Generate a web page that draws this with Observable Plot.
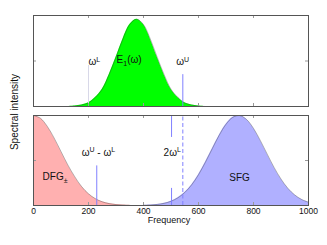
<!DOCTYPE html>
<html><head><meta charset="utf-8">
<script src="https://cdn.jsdelivr.net/npm/d3@7"></script>
<script src="https://cdn.jsdelivr.net/npm/@observablehq/plot@0.6"></script>
<style>
body{margin:0;background:#fff;font-family:"Liberation Sans",Arial,sans-serif;}
#c{position:relative;width:327px;height:245px;overflow:hidden;background:#fff}
#top{position:absolute;left:0;top:0}
#bot{position:absolute;left:0;top:107px}
#ylab{position:absolute;left:14px;top:112px;transform:translate(-50%,-50%) rotate(-90deg);font-size:10px;white-space:nowrap;color:#111}
</style></head><body>
<div id="c"><div id="top"></div><div id="bot"></div><div id="ylab">Spectral intensity</div></div>
<script>
// ---- data ----
const xTicks = [200, 400, 600, 800];
const xTickLabels = [0, 200, 400, 600, 800, 1000];
const yTicks = [0.5];

const e1Freq = [125,150,175,200,225,250,275,300,325,350,375,400,425,450,475,500,525,550,575,600,625];
const e1Int  = [0,0.005,0.016,0.04,0.10,0.19,0.35,0.54,0.74,0.90,0.96,0.90,0.74,0.54,0.35,0.19,0.10,0.04,0.016,0.005,0];

const dfgFreq = [0,25,50,75,100,125,150,175,200,225,250,275,300,325,350];
const dfgInt  = [1.0,0.97,0.88,0.75,0.60,0.45,0.32,0.21,0.13,0.076,0.041,0.021,0.010,0.005,0.002];

const sfgFreq = [400,425,450,475,500,525,550,575,600,625,650,675,700,725,750,775,800,825,850,875,900,925,950,975,1000];
const sfgInt  = [0.002,0.005,0.012,0.024,0.047,0.085,0.144,0.229,0.342,0.480,0.631,0.779,0.902,0.980,0.999,0.955,0.857,0.721,0.570,0.422,0.294,0.191,0.117,0.067,0.036];

// vertical marker lines: frequency, bottom, top
const omegaLFreq = 200, omegaLTop = 0.45;
const omegaUFreq = 543, omegaUTop = 0.35;
const diffFreq = 230, diffTop = 0.44;
const twoLFreq = 502;
const twoLSegBottom = [0, 0.19];
const twoLSegTop = [0.756, 1];

// annotation labels
const topLabelText = ["ω^L", "E_1(ω)", "ω^U"];
const topLabelFreq = [200, 302, 519];
const topLabelY = [0.49, 0.51, 0.49];
const botLabelText = ["ω^U - ω^L", "2ω^L", "DFG_±", "SFG"];
const botLabelFreq = [175, 473, 33, 712];
const botLabelY = [0.59, 0.59, 0.32, 0.31];

// ---- helpers ----
const zip = (xs, ys) => xs.map((x, i) => ({f: x, v: ys[i]}));
const e1 = zip(e1Freq, e1Int), dfg = zip(dfgFreq, dfgInt), sfg = zip(sfgFreq, sfgInt);
const topLabels = topLabelText.map((t, i) => ({t, f: topLabelFreq[i], y: topLabelY[i]}));
const botLabels = botLabelText.map((t, i) => ({t, f: botLabelFreq[i], y: botLabelY[i]}));

const FONT = '"Liberation Sans", Arial, sans-serif';
const LINE = "#8080ff";
const W = 327, ML = 33, MR = 19;
const frameW = W - ML - MR;

function richText(data, opts) {
  return Plot.text(data, {...opts, render(index, scales, values, dims, ctx, next) {
    const g = next(index, scales, values, dims, ctx);
    d3.select(g).selectAll("text").each(function() {
      const s = this.textContent;
      const parts = s.split(/(\^.|_.)/).filter(p => p);
      this.textContent = "";
      let shift = 0;
      for (const p of parts) {
        const t = d3.select(this).append("tspan");
        let target = 0, txt = p;
        if (p[0] === "^") { target = -3.5; txt = p.slice(1); t.attr("font-size", "70%"); }
        else if (p[0] === "_") { target = 3; txt = p.slice(1); t.attr("font-size", "70%"); }
        t.attr("dy", target - shift).text(txt);
        shift = target;
      }
    });
    return g;
  }});
}

function frameTicks(panelH) {
  return [
    Plot.tickX(xTicks, {x: d => d, stroke: "#999", insetTop: panelH - 3}),
    Plot.tickX(xTicks, {x: d => d, stroke: "#999", insetBottom: panelH - 3}),
    Plot.tickY(yTicks, {y: d => d, stroke: "#999", insetRight: frameW - 3}),
    Plot.tickY(yTicks, {y: d => d, stroke: "#999", insetLeft: frameW - 3}),
    Plot.frame({stroke: "#555"})
  ];
}

const topH = 107, topMT = 15, topMB = 1;
const topPlot = Plot.plot({
  width: W, height: topH, marginLeft: ML, marginRight: MR, marginTop: topMT, marginBottom: topMB,
  x: {domain: [0, 1000], axis: null},
  y: {domain: [0, 1], axis: null},
  style: {fontFamily: FONT, background: "transparent", overflow: "visible"},
  marks: [
    Plot.areaY(e1, {x: "f", y: "v", fill: "#00ff00", curve: "catmull-rom"}),
    Plot.lineY(e1, {x: "f", y: "v", stroke: "#333", strokeWidth: 0.5, strokeOpacity: 0.7, curve: "catmull-rom"}),
    Plot.ruleX([omegaLFreq], {x: d => d, y1: 0, y2: omegaLTop, stroke: "#d8d8e8"}),
    Plot.ruleX([omegaUFreq], {x: d => d, y1: 0, y2: omegaUTop, stroke: LINE}),
    ...frameTicks(topH - topMT - topMB),
    richText(topLabels, {x: "f", y: "y", text: "t", textAnchor: "start", fontSize: 10, fill: "#111"})
  ]
});
document.getElementById("top").append(topPlot);

const botH = 138, botMT = 8, botMB = 40;
const botPlot = Plot.plot({
  width: W, height: botH, marginLeft: ML, marginRight: MR, marginTop: botMT, marginBottom: botMB,
  x: {domain: [0, 1000], axis: null},
  y: {domain: [0, 1], axis: null},
  style: {fontFamily: FONT, background: "transparent", overflow: "visible"},
  marks: [
    Plot.areaY(dfg, {x: "f", y: "v", fill: "#ffb0b0", curve: "catmull-rom"}),
    Plot.lineY(dfg, {x: "f", y: "v", stroke: "#333", strokeWidth: 0.5, strokeOpacity: 0.7, curve: "catmull-rom"}),
    Plot.areaY(sfg, {x: "f", y: "v", fill: "#b0b0ff", curve: "catmull-rom"}),
    Plot.lineY(sfg, {x: "f", y: "v", stroke: "#333", strokeWidth: 0.5, strokeOpacity: 0.7, curve: "catmull-rom"}),
    Plot.ruleX([diffFreq], {x: d => d, y1: 0, y2: diffTop, stroke: LINE}),
    Plot.ruleX([twoLFreq], {x: d => d, y1: twoLSegBottom[0], y2: twoLSegBottom[1], stroke: LINE}),
    Plot.ruleX([twoLFreq], {x: d => d, y1: twoLSegTop[0], y2: twoLSegTop[1], stroke: LINE}),
    Plot.ruleX([omegaUFreq], {x: d => d, y1: 0, y2: 1, stroke: LINE, strokeDasharray: "4,2.5"}),
    ...frameTicks(botH - botMT - botMB),
    richText(botLabels, {x: "f", y: "y", text: "t", textAnchor: "start", fontSize: 10, fill: "#111"}),
    Plot.text(xTickLabels, {x: d => d, frameAnchor: "bottom", dy: 8, text: d => String(d), fontSize: 8.5, fill: "#111"}),
    Plot.text(["Frequency"], {frameAnchor: "bottom", dy: 17, dx: -2, text: d => d, fontSize: 9, fill: "#111"})
  ]
});
document.getElementById("bot").append(botPlot);
</script>
</body></html>
